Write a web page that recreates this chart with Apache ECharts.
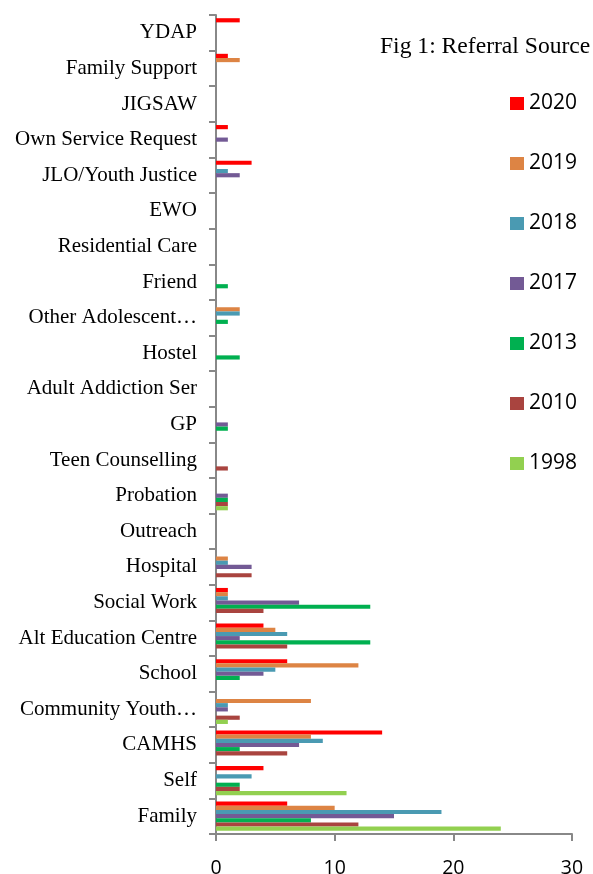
<!DOCTYPE html>
<html>
<head>
<meta charset="utf-8">
<script src="https://cdn.jsdelivr.net/npm/echarts@6/dist/echarts.min.js"></script>
<style>html,body{margin:0;padding:0;background:#fff;}#c{width:593px;height:874px;}</style>
</head>
<body>
<div id="c"></div>
<script>
// Categories bottom-to-top
const categories = ['Family','Self','CAMHS','Community Youth…','School','Alt Education Centre','Social Work','Hospital','Outreach','Probation','Teen Counselling','GP','Adult Addiction Ser','Hostel','Other Adolescent…','Friend','Residential Care','EWO','JLO/Youth Justice','Own Service Request','JIGSAW','Family Support','YDAP'];
const xTicks = [0, 10, 20, 30];
const years = ['2020','2019','2018','2017','2013','2010','1998'];
const v2020 = [6,4,14,0,6,4,1,0,0,0,0,0,0,0,0,0,0,0,3,1,0,1,2];
const v2019 = [10,0,8,8,12,5,1,1,0,0,0,0,0,0,2,0,0,0,0,0,0,2,0];
const v2018 = [19,3,9,1,5,6,1,1,0,0,0,0,0,0,2,0,0,0,1,0,0,0,0];
const v2017 = [15,0,7,1,4,2,7,3,0,1,0,1,0,0,0,0,0,0,2,1,0,0,0];
const v2013 = [8,2,2,0,2,13,13,0,0,1,0,1,0,2,1,1,0,0,0,0,0,0,0];
const v2010 = [12,2,6,2,0,6,4,3,0,1,1,0,0,0,0,0,0,0,0,0,0,0,0];
const v1998 = [24,11,0,1,0,0,0,0,0,1,0,0,0,0,0,0,0,0,0,0,0,0,0];

const seriesValues = [v2020, v2019, v2018, v2017, v2013, v2010, v1998];
const colors = ['#FF0000','#DD8444','#4A9AB2','#735A95','#00B050','#A9443F','#92D050'];

const chart = echarts.init(document.getElementById('c'), null, {renderer:'canvas'});
chart.setOption({
  animation: false,
  backgroundColor: '#fff',
  title: {
    text: 'Fig 1: Referral Source',
    left: 380, top: 35, padding: 0,
    textStyle: {fontFamily: 'Liberation Serif', fontSize: 23.6, fontWeight: 'normal', color: '#000'}
  },
  legend: {
    orient: 'vertical',
    left: 510, top: 93, padding: 0,
    itemWidth: 14, itemHeight: 13, itemGap: 39,
    icon: 'rect',
    data: years,
    textStyle: {fontFamily: 'Open Sans', fontSize: 21, lineHeight: 21, color: '#000'}
  },
  grid: {left: 216, right: 21, top: 15, bottom: 40, containLabel: false, outerBoundsMode: 'none'},
  xAxis: {
    type: 'value', min: xTicks[0], max: xTicks[xTicks.length-1], interval: 10,
    axisLine: {show: true, lineStyle: {color: '#888', width: 2}},
    axisTick: {show: true, length: 7, lineStyle: {color: '#888', width: 2}},
    splitLine: {show: false},
    axisLabel: {margin: 24, fontFamily: 'Open Sans', fontSize: 19.5, color: '#000'}
  },
  yAxis: {
    type: 'category', data: categories,
    axisLine: {show: true, lineStyle: {color: '#888', width: 2}},
    axisTick: {show: true, length: 7, lineStyle: {color: '#888', width: 2}},
    axisLabel: {margin: 19, fontFamily: 'Liberation Serif', fontSize: 21, color: '#000', interval: 0, padding: [5, 0, 0, 0]}
  },
  series: years.map((y, i) => ({
    name: y, type: 'bar', data: seriesValues[i],
    barGap: '0%', barCategoryGap: '18%',
    itemStyle: {color: colors[i]}
  }))
});
</script>
</body>
</html>
